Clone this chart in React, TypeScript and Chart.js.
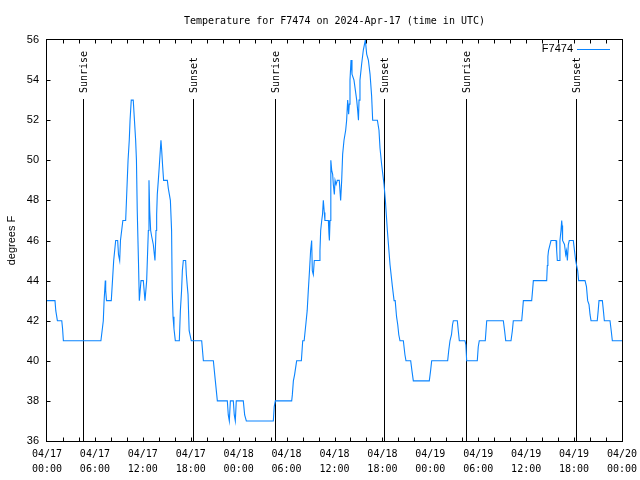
import React, { useEffect, useRef } from 'react';
import { Chart, registerables } from 'chart.js';

Chart.register(...registerables);

const MONO = '"DejaVu Sans Mono", monospace';
const SANS = '"Liberation Sans", Arial, sans-serif';
const LINE_COLOR = '#0a84ff';

const chartTitle = 'Temperature for F7474 on 2024-Apr-17 (time in UTC)';
const seriesName = 'F7474';
const yAxisTitle = 'degrees F';

// hours since 2024-04-17 00:00 UTC
const hours = [
  0, 1.0, 1.1, 1.3, 1.85, 1.95, 2.05, 6.75, 6.9, 7.05,
  7.15, 7.3, 7.35, 7.45, 8.05, 8.2, 8.35, 8.6, 8.85, 8.95,
  9.1, 9.2, 9.5, 9.85, 9.95, 10.05, 10.15, 10.3, 10.4, 10.55,
  10.8, 10.95, 11.1, 11.2, 11.3, 11.45, 11.56, 11.77, 12.06, 12.27,
  12.48, 12.69, 12.77, 12.86, 12.98, 13.11, 13.31, 13.52, 13.65, 13.73,
  13.81, 13.94, 14.06, 14.27, 14.36, 14.48, 14.6, 15.07, 15.19, 15.32,
  15.45, 15.6, 15.68, 15.78, 15.9, 16.07, 16.57, 16.7, 16.85, 16.95,
  17.07, 17.36, 17.45, 17.55, 17.66, 17.8, 18.07, 19.37, 19.58, 20.83,
  21.08, 21.33, 22.58, 22.7, 22.83, 22.96, 23.33, 23.45, 23.58, 23.7,
  24.58, 24.75, 24.96, 28.34, 28.45, 28.59, 30.64, 30.72, 30.85, 31.0,
  31.26, 31.85, 32.02, 32.2, 32.43, 32.58, 32.72, 32.87, 33.01, 33.14,
  33.22, 33.35, 33.47, 34.1, 34.18, 34.27, 34.4, 34.5, 34.6, 34.72,
  34.8, 35.23, 35.31, 35.36, 35.44, 35.52, 35.56, 35.65, 35.77, 35.85,
  35.98, 36.07, 36.2, 36.35, 36.6, 36.77, 36.9, 37.02, 37.19, 37.4,
  37.52, 37.65, 37.77, 37.85, 37.94, 38.07, 38.19, 38.44, 38.78, 38.9,
  39.0, 39.07, 39.19, 39.4, 39.61, 39.86, 40.03, 40.24, 40.45, 40.65,
  40.78, 41.37, 41.57, 41.7, 41.9, 42.2, 42.37, 42.62, 42.95, 43.25,
  43.46, 43.6, 43.77, 43.92, 44.05, 44.2, 44.62, 44.82, 44.95, 45.54,
  45.7, 45.87, 47.87, 48.03, 48.17, 50.17, 50.3, 50.46, 50.65, 50.78,
  50.88, 51.38, 51.5, 51.63, 52.34, 52.45, 52.55, 53.88, 54.0, 54.13,
  54.88, 55.06, 57.14, 57.3, 57.44, 58.1, 58.27, 58.39, 59.44, 59.55,
  59.65, 60.69, 60.8, 60.9, 62.57, 62.65, 62.72, 62.8, 63.11, 63.74,
  63.82, 63.9, 64.15, 64.23, 64.36, 64.45, 64.5, 64.55, 64.57, 64.8,
  64.95, 65.05, 65.16, 65.28, 65.4, 65.9, 66.05, 66.2, 66.32, 66.45,
  66.57, 67.37, 67.55, 67.7, 67.87, 68.0, 68.12, 68.9, 69.02, 69.12,
  69.54, 69.67, 69.79, 70.5, 70.65, 70.79, 72,
];

// temperature, degrees F
const temps = [
  43, 43, 42.5, 42, 42, 41.6, 41, 41, 41.5, 42,
  43, 44, 43.5, 43, 43, 44, 45, 46, 46, 45.3,
  45, 46, 47, 47, 48, 49, 50, 51, 52, 53,
  53, 52, 51, 50, 47.5, 45, 43, 44, 44, 43,
  44, 46.5, 49, 47.5, 46.5, 46.2, 45.8, 45, 46.5, 47.3,
  48.3, 49, 49.7, 51, 50.5, 49.7, 49, 49, 48.6, 48.3,
  48, 46.5, 43.5, 42.2, 41.6, 41, 41, 42.5, 43.5, 44.5,
  45, 45, 44.3, 43.8, 43.3, 41.5, 41, 41, 40, 40,
  39, 38, 38, 37.3, 37, 38, 38, 37.3, 37, 38,
  38, 37.3, 37, 37, 37.7, 38, 38, 38.3, 39, 39.3,
  40, 40, 41, 41, 41.9, 42.5, 43.5, 44.5, 45.5, 46,
  44.5, 44.3, 45, 45, 45.5, 46.5, 47, 47.3, 48, 47.4,
  47, 47, 46.3, 46, 47, 48.2, 50, 49.5, 49.3, 48.8,
  48.3, 49, 48.8, 49, 49, 48, 49, 50.3, 51, 51.5,
  52, 53, 52.3, 52.8, 54, 55, 54.3, 54, 53, 52.5,
  52, 53, 54, 54.8, 55.5, 56, 55.3, 55, 54.3, 53.2,
  52, 52, 51.5, 50.6, 49.8, 48.8, 48, 46.5, 44.8, 43.7,
  43, 43, 42.2, 41.8, 41.3, 41, 41, 40.3, 40, 40,
  39.5, 39, 39, 39.5, 40, 40, 40.5, 41, 41.3, 41.8,
  42, 42, 41.5, 41, 41, 40.8, 40, 40, 40.7, 41,
  41, 42, 42, 41.5, 41, 41, 41.5, 42, 42, 42.5,
  43, 43, 43.5, 44, 44, 44.75, 45.2, 45.5, 46, 46,
  45.5, 45, 45, 46, 46.5, 47, 46.75, 46.3, 46, 45.8,
  45.3, 45.5, 45, 45.8, 46, 46, 45.5, 45, 44.75, 44.5,
  44, 44, 43.7, 43, 42.8, 42.3, 42, 42, 42.5, 43,
  43, 42.5, 42, 42, 41.5, 41, 41,
];

// sunrise / sunset events (hours since start)
const sunEventHours = [4.55, 18.32, 28.59, 42.22, 52.5, 66.28];
const sunEventLabels = ['Sunrise', 'Sunset', 'Sunrise', 'Sunset', 'Sunrise', 'Sunset'];

// x tick labels, every 6 hours
const xTickDates = ['04/17', '04/17', '04/17', '04/17', '04/18', '04/18', '04/18', '04/18', '04/19', '04/19', '04/19', '04/19', '04/20'];
const xTickTimes = ['00:00', '06:00', '12:00', '18:00', '00:00', '06:00', '12:00', '18:00', '00:00', '06:00', '12:00', '18:00', '00:00'];

const X_MIN = 0;
const X_MAX = 72;
const Y_MIN = 36;
const Y_MAX = 56;

export default function App() {
  const ref = useRef<HTMLCanvasElement>(null);

  useEffect(() => {
    if (!ref.current) return;
    const points = hours.map((h, i) => ({ x: h, y: temps[i] }));

    const sunLines = {
      id: 'sunLines',
      beforeDatasetsDraw(chart: any) {
        const { ctx, chartArea: a, scales } = chart;
        ctx.save();
        ctx.strokeStyle = '#000';
        ctx.lineWidth = 1;
        sunEventHours.forEach((h, i) => {
          const px = Math.round(scales.x.getPixelForValue(h)) + 0.5;
          ctx.beginPath();
          ctx.moveTo(px, a.top + 59);
          ctx.lineTo(px, a.bottom);
          ctx.stroke();
          ctx.save();
          ctx.translate(px + 1, a.top + 53);
          ctx.rotate(-Math.PI / 2);
          ctx.font = `10px ${MONO}`;
          ctx.fillStyle = '#000';
          ctx.textAlign = 'left';
          ctx.textBaseline = 'middle';
          ctx.fillText(sunEventLabels[i], 0, 0);
          ctx.restore();
        });
        ctx.restore();
      },
    };

    const frame = {
      id: 'frame',
      afterDatasetsDraw(chart: any) {
        const { ctx, chartArea: a, scales } = chart;
        ctx.save();
        ctx.strokeStyle = '#000';
        ctx.lineWidth = 1;
        const L = a.left - 0.5, R = a.right + 0.5, T = a.top - 0.5, B = a.bottom + 0.5;
        ctx.strokeRect(L, T, R - L, B - T);
        const tl = 4;
        ctx.beginPath();
        for (let h = X_MIN + 2; h < X_MAX; h += 2) {
          const px = Math.round(scales.x.getPixelForValue(h)) + 0.5;
          ctx.moveTo(px, B); ctx.lineTo(px, B - tl);
          ctx.moveTo(px, T); ctx.lineTo(px, T + tl);
        }
        for (let v = Y_MIN + 2; v < Y_MAX; v += 2) {
          const py = Math.round(scales.y.getPixelForValue(v)) + 0.5;
          ctx.moveTo(L, py); ctx.lineTo(L + tl, py);
          ctx.moveTo(R, py); ctx.lineTo(R - tl, py);
        }
        ctx.stroke();
        // legend
        const ly = a.top + 9;
        ctx.font = `11px ${SANS}`;
        ctx.fillStyle = '#000';
        ctx.textAlign = 'right';
        ctx.textBaseline = 'middle';
        ctx.fillText(seriesName, a.right - 49, ly);
        ctx.strokeStyle = LINE_COLOR;
        ctx.beginPath();
        ctx.moveTo(a.right - 45, ly + 0.5);
        ctx.lineTo(a.right - 12, ly + 0.5);
        ctx.stroke();
        ctx.restore();
      },
    };

    const chart = new Chart(ref.current, {
      type: 'line',
      data: {
        datasets: [
          {
            label: seriesName,
            data: points,
            borderColor: LINE_COLOR,
            backgroundColor: LINE_COLOR,
            borderWidth: 1.1,
            pointRadius: 0,
            tension: 0,
            fill: false,
          },
        ],
      },
      options: {
        responsive: false,
        animation: false,
        devicePixelRatio: 1,
        parsing: false,
        layout: { padding: { left: 0, right: 18, top: 0, bottom: 0 } },
        plugins: {
          legend: { display: false },
          tooltip: { enabled: false },
          title: {
            display: true,
            text: chartTitle,
            fullSize: false,
            color: '#000',
            font: { family: MONO, size: 10, weight: 'normal', lineHeight: 1.2 },
            padding: { top: 15, bottom: 13 },
          },
        },
        scales: {
          x: {
            type: 'linear',
            min: X_MIN,
            max: X_MAX,
            grid: { display: false, drawTicks: false },
            border: { display: false },
            ticks: {
              stepSize: 6,
              autoSkip: false,
              maxRotation: 0,
              minRotation: 0,
              padding: 6,
              color: '#000',
              font: { family: MONO, size: 10, lineHeight: 1.5 },
              callback: (v: any) => {
                const i = Math.round(Number(v) / 6);
                return [xTickDates[i], xTickTimes[i]];
              },
            },
            afterFit: (s: any) => {
              s.height = 39;
              s.paddingLeft = 0;
              s.paddingRight = 0;
            },
          },
          y: {
            min: Y_MIN,
            max: Y_MAX,
            grid: { display: false, drawTicks: false },
            border: { display: false },
            ticks: {
              stepSize: 2,
              padding: 8,
              color: '#000',
              font: { family: SANS, size: 11 },
            },
            title: {
              display: true,
              text: yAxisTitle,
              color: '#000',
              font: { family: SANS, size: 11 },
              padding: { top: 5, bottom: 0 },
            },
            afterFit: (s: any) => {
              s.width = 47;
              s.paddingTop = 0;
              s.paddingBottom = 0;
            },
          },
        },
      },
      plugins: [sunLines, frame],
    } as any);

    return () => chart.destroy();
  }, []);

  return (
    <div style={{ position: 'fixed', left: 0, top: 0, width: 640, height: 480, background: '#fff' }}>
      <canvas ref={ref} width={640} height={480} />
    </div>
  );
}
